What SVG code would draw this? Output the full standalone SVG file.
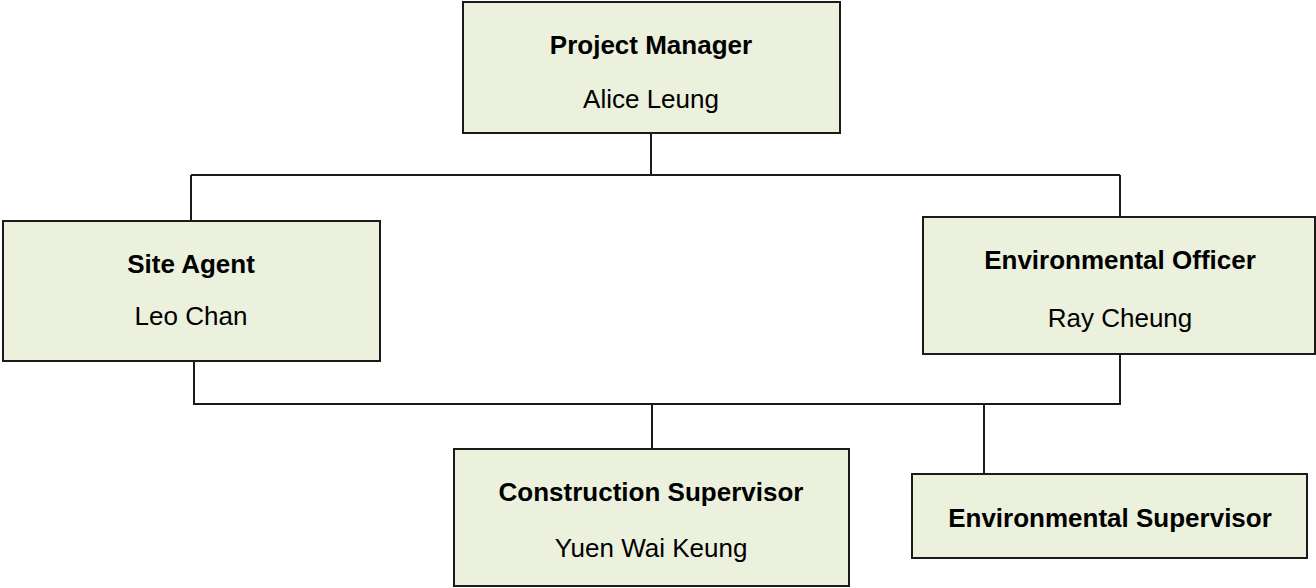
<svg xmlns="http://www.w3.org/2000/svg" width="1316" height="588" viewBox="0 0 1316 588">
<style>
.box{fill:#ebf1dd;stroke:#1a1a1a;stroke-width:2}
.t{font-family:"Liberation Sans",Arial,sans-serif;font-size:26px;fill:#000;text-anchor:middle}
.b{font-weight:bold}
.c{fill:none;stroke:#1a1a1a;stroke-width:2}
</style>
<rect width="1316" height="588" fill="#fff"/>
<g id="connectors">
<path class="c" d="M651 133V175M191 175H1120M191 175V221M1120 175V217"/>
<path class="c" d="M194 361V404H1120V354M652 404V449M984 404V474"/>
</g>
<g id="pm">
<rect class="box" x="463" y="2" width="377" height="131"/>
<text class="t b" x="651" y="54">Project Manager</text>
<text class="t" x="651" y="108">Alice Leung</text>
</g>
<g id="site-agent">
<rect class="box" x="3" y="221" width="377" height="140"/>
<text class="t b" x="191" y="273">Site Agent</text>
<text class="t" x="191" y="325">Leo Chan</text>
</g>
<g id="env-officer">
<rect class="box" x="923" y="217" width="392" height="137"/>
<text class="t b" x="1120" y="269">Environmental Officer</text>
<text class="t" x="1120" y="327">Ray Cheung</text>
</g>
<g id="construction-supervisor">
<rect class="box" x="454" y="449" width="395" height="137"/>
<text class="t b" x="651" y="501">Construction Supervisor</text>
<text class="t" x="651" y="557">Yuen Wai Keung</text>
</g>
<g id="env-supervisor">
<rect class="box" x="912" y="474" width="395" height="84"/>
<text class="t b" x="1110" y="527">Environmental Supervisor</text>
</g>
</svg>
